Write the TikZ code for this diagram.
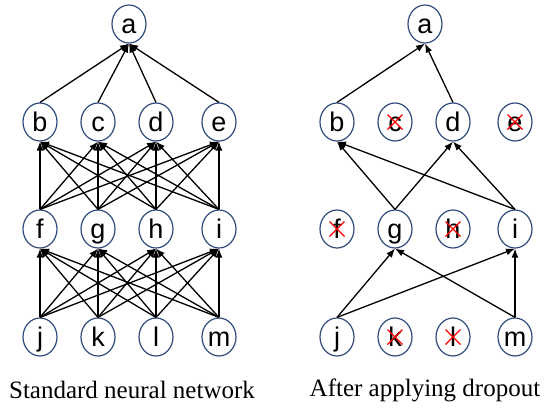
\documentclass[tikz,border=0pt]{standalone}
\usepackage{fontspec}
\setmainfont{Liberation Serif}
\newfontfamily\unitfont{Liberation Sans}
\usetikzlibrary{arrows.meta,shapes.geometric}
\definecolor{unitblue}{HTML}{2F4B7C}
\tikzset{
  netarrow/.style={-{Latex[length=9pt,width=7pt]}, line width=1.3pt,
    draw=black},
  netunit/.style={ellipse, draw=unitblue, line width=1.2pt,
    minimum width=34pt, minimum height=38pt, inner sep=0pt,
    text height=19.5pt, text depth=0pt,
    font=\unitfont\fontsize{27}{27}\selectfont},
  netcross/.style={draw=red, line width=1.4pt},
  netcaption/.style={font=\rmfamily\fontsize{25}{30}\selectfont}
}

\begin{document}
\begin{tikzpicture}[x=1pt, y=-1pt]
  \useasboundingbox (0,0) rectangle (550,410);

  % standard network
  \node[netunit] (sa) at (129,24) {a};
  \foreach \n/\x in {b/40,c/98,d/156,e/219}
    \node[netunit] (s\n) at (\x,122) {\n};
  \foreach \n/\x in {f/40,g/98,h/156,i/219}
    \node[netunit] (s\n) at (\x,229) {\n};
  \foreach \n/\x in {j/40,k/98,l/156,m/219}
    \node[netunit] (s\n) at (\x,337) {\n};

  \foreach \t in {b,c,d,e}
    \draw[netarrow] (s\t.north) -- (sa.south);
  \foreach \s in {f,g,h,i}
    \foreach \t in {b,c,d,e}
      \draw[netarrow] (s\s.north) -- (s\t.south);
  \foreach \s in {j,k,l,m}
    \foreach \t in {f,g,h,i}
      \draw[netarrow] (s\s.north) -- (s\t.south);

  % thinned network
  \node[netunit] (da) at (425,24) {a};
  \foreach \n/\x in {b/337,c/395,d/453,e/515}
    \node[netunit] (d\n) at (\x,122) {\n};
  \foreach \n/\x in {f/337,g/395,h/453,i/515}
    \node[netunit] (d\n) at (\x,229) {\n};
  \foreach \n/\x in {j/337,k/395,l/453,m/515}
    \node[netunit] (d\n) at (\x,337) {\n};

  \foreach \s/\t in {b/a,d/a,g/b,i/b,g/d,i/d,j/g,m/g,j/i,m/i}
    \draw[netarrow] (d\s.north) -- (d\t.south);
  \foreach \n in {c,e,f,h,k,l}
    \draw[netcross] (d\n.center) +(-7.5,-7.5) -- +(7.5,7.5)
      +(-7.5,7.5) -- +(7.5,-7.5);

  \node[netcaption] (scap) at (132,390) {Standard neural network};
  \node[netcaption] (dcap) at (425,390) {After applying dropout};
\end{tikzpicture}
\end{document}
